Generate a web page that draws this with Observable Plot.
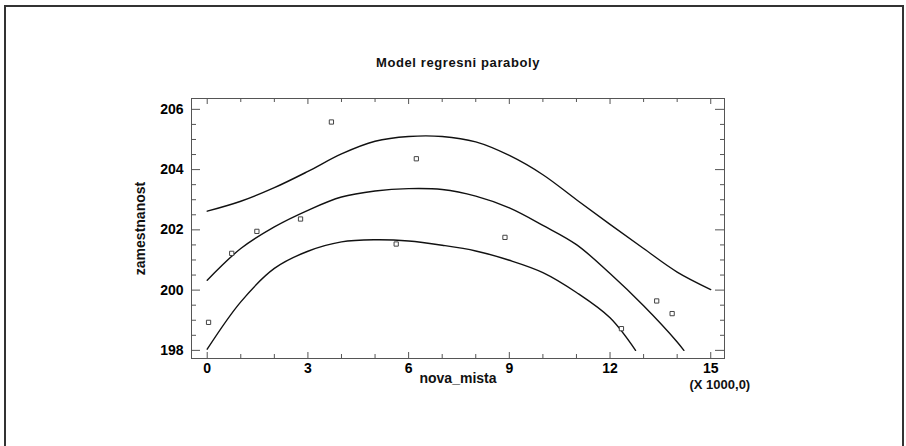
<!DOCTYPE html>
<html><head><meta charset="utf-8">
<script src="https://cdn.jsdelivr.net/npm/d3@7"></script>
<script src="https://cdn.jsdelivr.net/npm/@observablehq/plot@0.6"></script>
<style>
body{margin:0;background:#fff;}
#wrap{position:relative;width:906px;height:446px;overflow:hidden;background:#fff;}
#border{position:absolute;left:4px;top:5px;width:900px;height:460px;border:2px solid #333;box-sizing:border-box;pointer-events:none}
#chart{position:absolute;left:0;top:0;}
</style></head><body><div id="wrap"><div id="chart"></div><div id="border"></div></div>
<script>
const title = "Model regresni paraboly";
const xLabel = "nova_mista";
const yLabel = "zamestnanost";
const xScaleNote = "(X 1000,0)";

const xTicks = [0, 3, 6, 9, 12, 15];
const xMinorTicks = [1, 2, 4, 5, 7, 8, 10, 11, 13, 14];
const yTicks = [198, 200, 202, 204, 206];
const yMinorTicks = [198.5, 199, 199.5, 200.5, 201, 201.5, 202.5, 203, 203.5, 204.5, 205, 205.5];

// observed points
const obsX = [0.04, 0.73, 1.48, 2.78, 3.70, 5.63, 6.23, 8.87, 12.34, 13.39, 13.85];
const obsY = [198.93, 201.22, 201.95, 202.36, 205.58, 201.53, 204.36, 201.75, 198.72, 199.64, 199.22];

// upper band
const upperX = [0, 1, 2, 3, 4, 5, 6, 7, 8, 9, 10, 11, 12, 13, 14, 15];
const upperY = [202.62, 202.95, 203.40, 203.94, 204.52, 204.94, 205.10, 205.10, 204.92, 204.47, 203.83, 203.00, 202.18, 201.38, 200.60, 200.02];
// fitted parabola
const fitX = [0, 1, 2, 3, 4, 5, 6, 7, 8, 9, 10, 11, 12, 13, 14, 14.2];
const fitY = [200.33, 201.38, 202.10, 202.65, 203.09, 203.29, 203.37, 203.34, 203.12, 202.73, 202.15, 201.51, 200.55, 199.48, 198.28, 198.0];
// lower band
const lowerX = [0, 1, 2, 3, 4, 5, 6, 7, 8, 9, 10, 11, 12, 12.76];
const lowerY = [198.04, 199.61, 200.72, 201.29, 201.60, 201.67, 201.63, 201.49, 201.30, 200.99, 200.58, 199.92, 199.08, 198.0];

const toRows = (xs, ys) => xs.map((x, i) => ({x, y: ys[i]}));
const points = toRows(obsX, obsY);
const upper = toRows(upperX, upperY);
const fit = toRows(fitX, fitY);
const lower = toRows(lowerX, lowerY);

const W = 906, H = 446;
const mL = 191, mR = 182, mT = 98, mB = 88;
const pw = W - mL - mR, ph = H - mT - mB;
const axisColor = "#555";
const font = "'Liberation Sans', Arial, Helvetica, sans-serif";

const lineOpts = {x: "x", y: "y", stroke: "#111", strokeWidth: 1.4, curve: "catmull-rom"};

const svg = Plot.plot({
  width: W, height: H,
  marginLeft: mL, marginRight: mR, marginTop: mT, marginBottom: mB,
  style: {fontFamily: font, background: "transparent", color: "#000"},
  x: {domain: [-0.468, 15.41], label: null},
  y: {domain: [197.73, 206.36], label: null},
  marks: [
    Plot.frame({stroke: axisColor, strokeWidth: 1}),
    // bottom ticks
    Plot.tickX(xTicks, {x: d => d, stroke: axisColor, insetTop: ph - 6}),
    Plot.tickX(xMinorTicks, {x: d => d, stroke: axisColor, insetTop: ph - 4}),
    // top ticks
    Plot.tickX(xTicks, {x: d => d, stroke: axisColor, insetBottom: ph - 6}),
    Plot.tickX(xMinorTicks, {x: d => d, stroke: axisColor, insetBottom: ph - 4}),
    // left ticks
    Plot.tickY(yTicks, {y: d => d, stroke: axisColor, insetRight: pw - 9}),
    Plot.tickY(yMinorTicks, {y: d => d, stroke: axisColor, insetRight: pw - 5}),
    // right ticks
    Plot.tickY(yTicks, {y: d => d, stroke: axisColor, insetLeft: pw - 9}),
    Plot.tickY(yMinorTicks, {y: d => d, stroke: axisColor, insetLeft: pw - 4}),
    Plot.axisX(xTicks, {anchor: "bottom", tickSize: 0, tickPadding: 5, fontSize: 14, fontWeight: "bold", label: null, tickFormat: d => String(d)}),
    Plot.axisY(yTicks, {anchor: "left", tickSize: 0, tickPadding: 8, fontSize: 14, fontWeight: "bold", label: null, tickFormat: d => String(d)}),
    Plot.line(upper, lineOpts),
    Plot.line(fit, lineOpts),
    Plot.line(lower, lineOpts),
    Plot.dot(points, {x: "x", y: "y", symbol: "square", r: 2.4, stroke: "#444", strokeWidth: 1, fill: "white"}),
    Plot.text([title], {text: d => d, frameAnchor: "top", dy: -41, fontSize: 13, fontWeight: "bold", fill: "#111"}),
    Plot.text([xLabel], {text: d => d, frameAnchor: "bottom", dy: 24, fontSize: 14, fontWeight: "bold", fill: "#111"}),
    Plot.text([yLabel], {text: d => d, frameAnchor: "left", textAnchor: "middle", dx: -51, rotate: -90, fontSize: 14, fontWeight: "bold", fill: "#111"}),
    Plot.text([xScaleNote], {text: d => d, frameAnchor: "bottom-right", textAnchor: "start", dx: -35, dy: 30, fontSize: 13, fontWeight: "bold", fill: "#111"})
  ]
});
d3.select(svg).selectAll("text").filter(function() { return this.textContent === title; }).style("letter-spacing", "0.6px");
document.getElementById("chart").appendChild(svg);
</script>
</body></html>
